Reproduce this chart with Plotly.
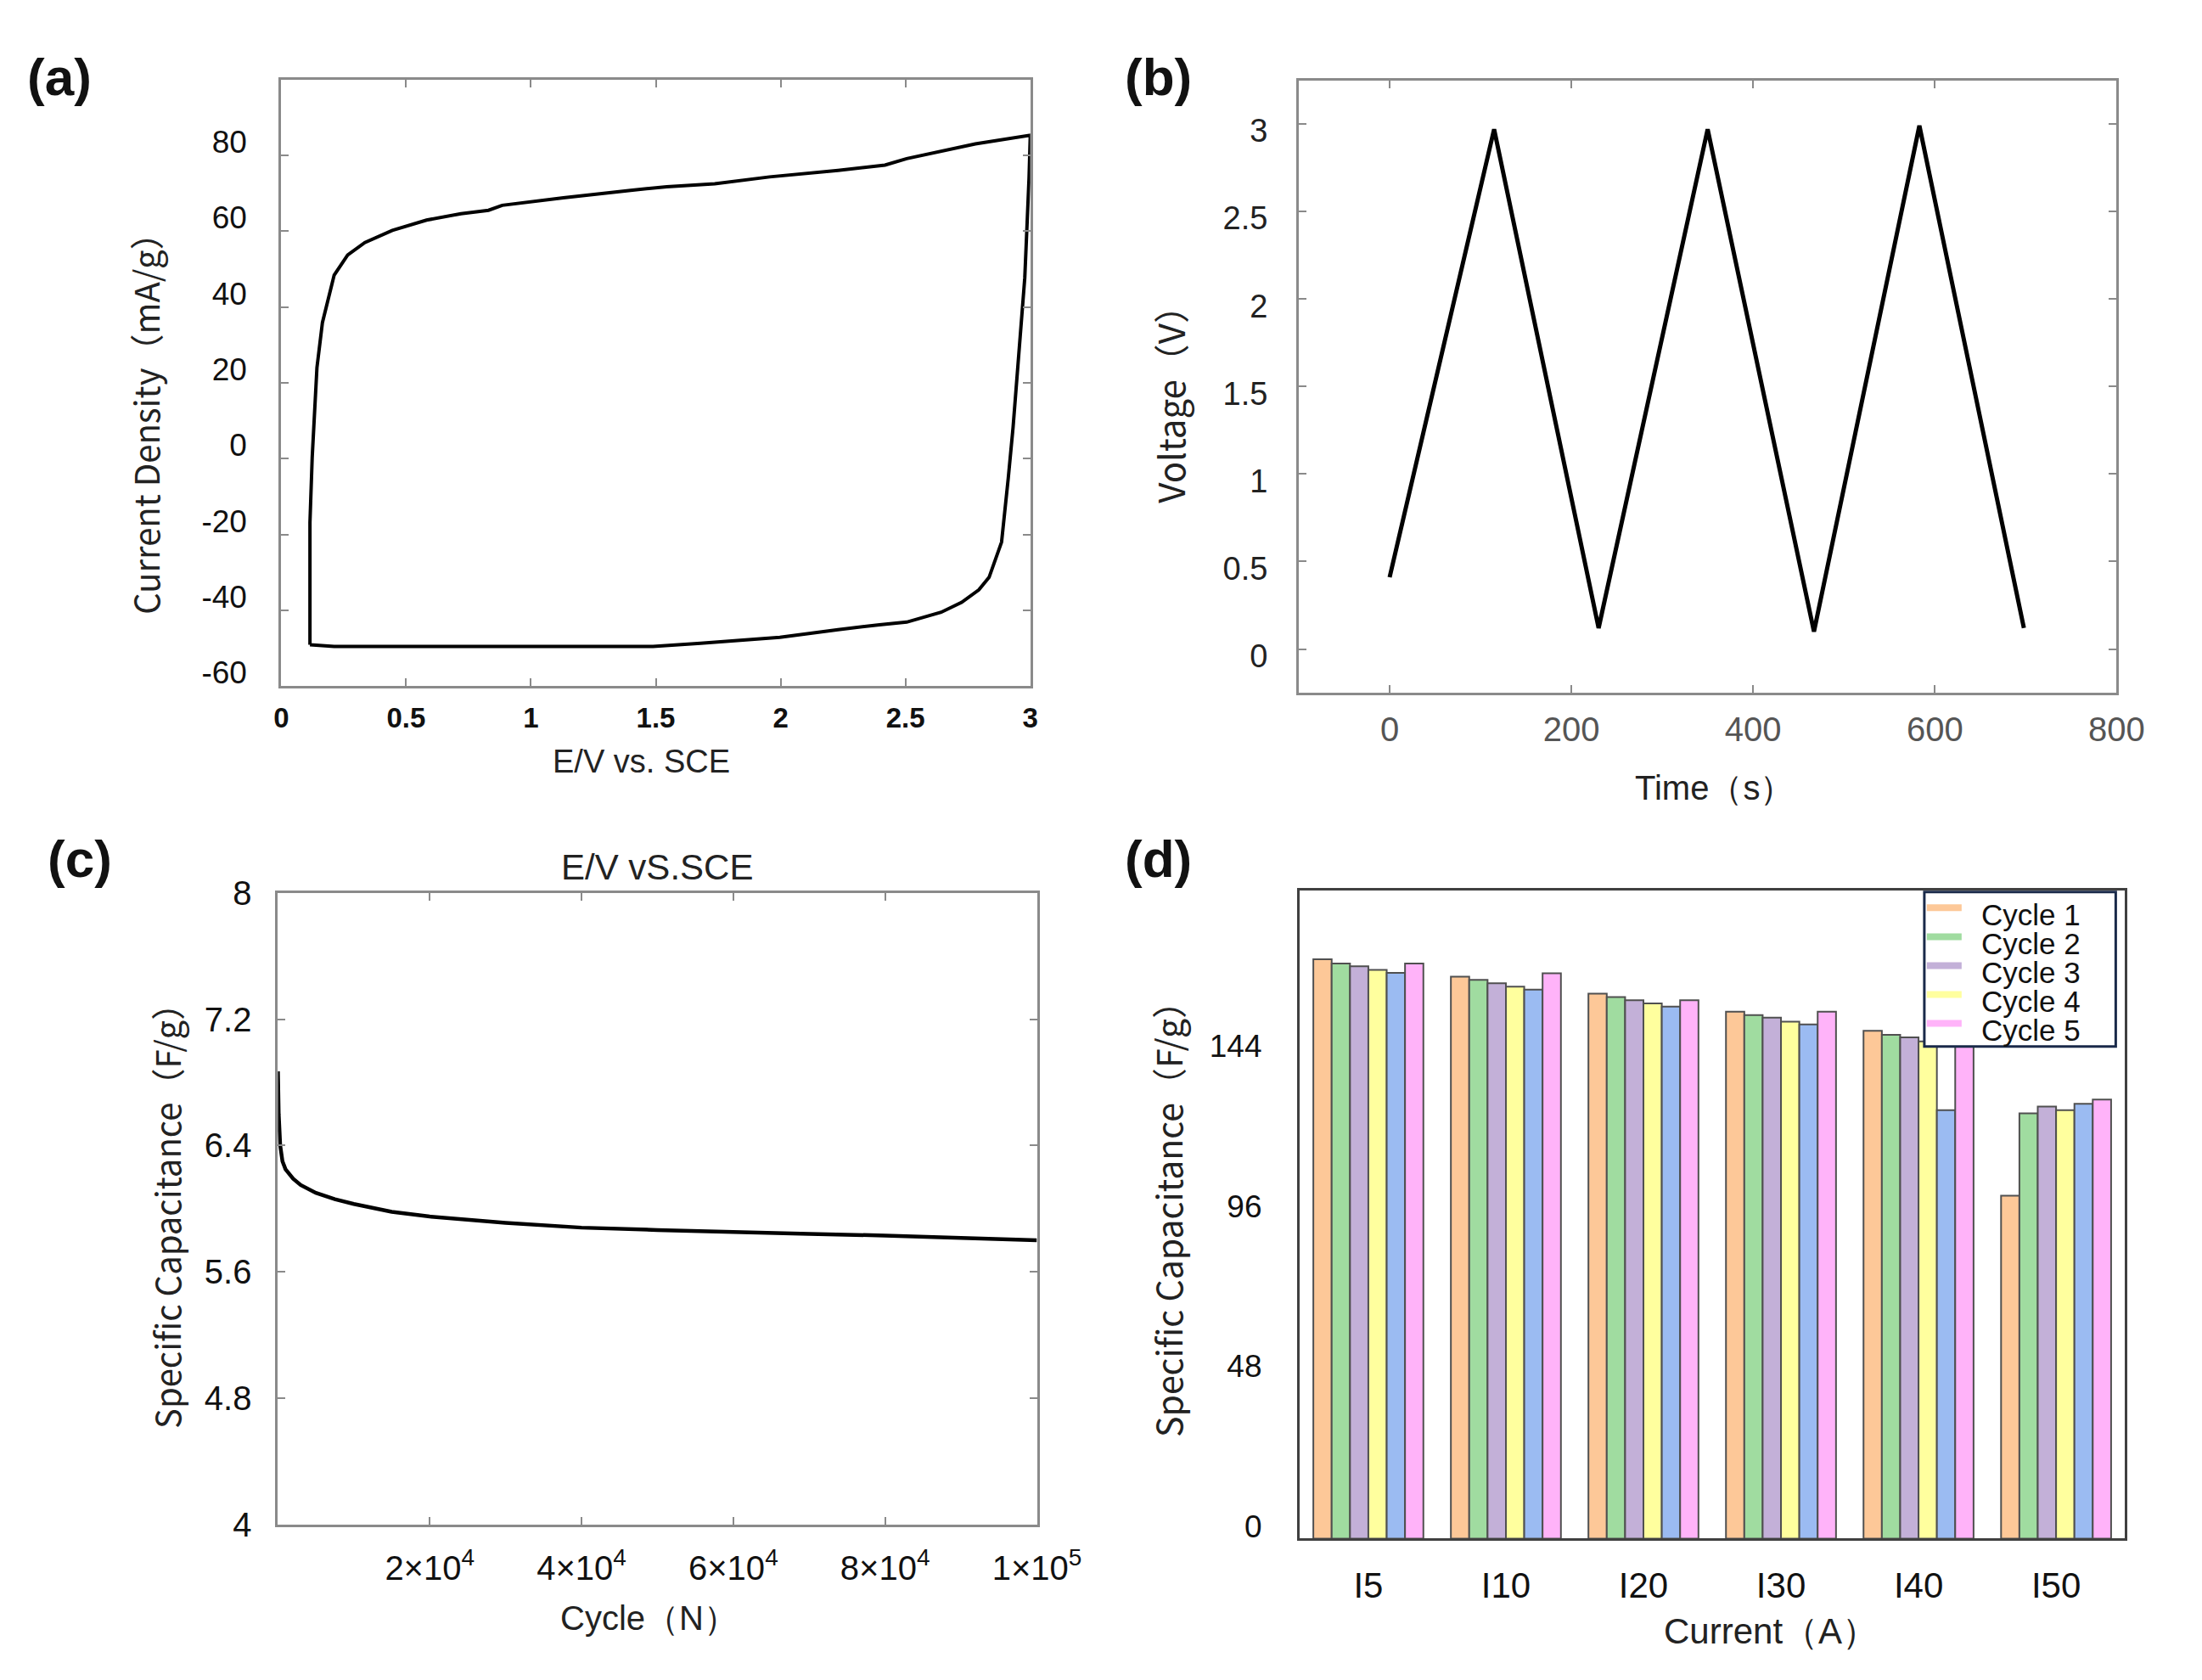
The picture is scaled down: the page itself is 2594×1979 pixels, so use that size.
import plotly.graph_objects as go

# %% Data
# (a) cyclic voltammogram, E/V vs. SCE -> current density (mA/g)
cv_potential = [0.115, 0.115, 0.124, 0.143, 0.165, 0.212, 0.266, 0.335, 0.445, 0.582,
                0.72, 0.83, 0.885, 1.13, 1.407, 1.544, 1.736, 1.956, 2.23, 2.418,
                2.505, 2.78, 3.0, 2.995, 2.978, 2.959, 2.931, 2.912, 2.885, 2.835,
                2.794, 2.725, 2.643, 2.505, 2.396, 2.23, 1.997, 1.68, 1.489, 0.857,
                0.212, 0.115]
cv_current = [-49.1, -16.8, 0.3, 24.0, 35.9, 48.4, 53.7, 57.0, 60.2, 62.9,
              64.6, 65.5, 66.8, 68.8, 70.8, 71.7, 72.5, 74.3, 76.0, 77.4,
              79.1, 83.0, 85.3, 74.0, 47.7, 30.6, 8.2, -5.0, -22.0, -31.3,
              -34.6, -37.9, -40.5, -43.1, -43.8, -45.1, -47.1, -48.7, -49.5, -49.5,
              -49.5, -49.1]
cv_yticks = [-60, -40, -20, 0, 20, 40, 60, 80]

# (b) galvanostatic charge/discharge
gcd_time = [0, 115, 230, 350, 467, 583, 698]
gcd_voltage = [0.41, 2.97, 0.12, 2.97, 0.10, 2.99, 0.12]

# (c) cycling stability
cycle_n = [0, 100, 300, 600, 1000, 2000, 3000, 5000, 7500, 10000, 15000,
           20000, 30000, 40000, 50000, 60000, 70000, 80000, 90000, 100000]
cycle_cap = [6.87, 6.6, 6.4, 6.3, 6.25, 6.19, 6.15, 6.10, 6.06, 6.03, 5.98,
             5.95, 5.91, 5.88, 5.865, 5.85, 5.84, 5.83, 5.815, 5.80]
cycle_ticks = [20000, 40000, 60000, 80000, 100000]
cycle_ticktext = ["2×10<sup>4</sup>", "4×10<sup>4</sup>", "6×10<sup>4</sup>",
                  "8×10<sup>4</sup>", "1×10<sup>5</sup>"]

# (d) rate capability
currents = ["I5", "I10", "I20", "I30", "I40", "I50"]
cycle1 = [173.4, 168.2, 163.1, 157.7, 152.0, 102.6]
cycle2 = [172.1, 167.2, 162.1, 156.7, 150.8, 127.3]
cycle3 = [171.3, 166.2, 161.1, 155.9, 150.0, 129.3]
cycle4 = [170.2, 165.2, 160.2, 154.7, 148.8, 128.2]
extra_blue = [169.3, 164.3, 159.2, 153.9, 128.2, 130.1]
cycle5 = [172.1, 169.2, 161.1, 157.7, 150.8, 131.4]
legend_names = ["Cycle 1", "Cycle 2", "Cycle 3", "Cycle 4", "Cycle 5"]

W, H = 2594, 1979


def px(x):
    return x / W


def py(y):
    return 1 - y / H


SANS = "Liberation Sans, Arial, sans-serif"
CJK = "Noto Sans CJK SC, Noto Sans, sans-serif"

fig = go.Figure()

# %% (a)
fig.add_trace(go.Scatter(x=cv_potential, y=cv_current, mode="lines",
                         line=dict(color="black", width=4), showlegend=False,
                         xaxis="x", yaxis="y"))

# %% (b)
fig.add_trace(go.Scatter(x=gcd_time, y=gcd_voltage, mode="lines",
                         line=dict(color="black", width=5), showlegend=False,
                         xaxis="x2", yaxis="y2"))

# %% (c)
fig.add_trace(go.Scatter(x=cycle_n, y=cycle_cap, mode="lines",
                         line=dict(color="black", width=4.5), showlegend=False,
                         xaxis="x3", yaxis="y3"))

# %% (d)
bar_colors = ["#FDC898", "#A0DCA0", "#C3B0D8", "#FFFF9E", "#9BBBF2", "#FFB3F9"]
bar_series = [cycle1, cycle2, cycle3, cycle4, extra_blue, cycle5]
for vals, col in zip(bar_series, bar_colors):
    fig.add_trace(go.Bar(x=currents, y=vals,
                         marker=dict(color=col, line=dict(color="#505050", width=2)),
                         showlegend=False, xaxis="x4", yaxis="y4"))

frame = dict(showline=True, linecolor="#8a8a8a", linewidth=3, mirror="ticks",
             ticks="inside", ticklen=9, tickcolor="#8a8a8a", tickwidth=2,
             showgrid=False, zeroline=False)

fig.update_layout(
    width=W, height=H,
    margin=dict(l=0, r=0, t=0, b=0),
    paper_bgcolor="white", plot_bgcolor="white",
    barmode="group", bargap=0.2, bargroupgap=0,
    xaxis=dict(frame, domain=[px(322), px(1226)], range=[0, 3], anchor="y",
               tickvals=[0, 0.5, 1, 1.5, 2, 2.5, 3], ticktext=["0", "0.5", "1", "1.5", "2", "2.5", "3"],
               tickfont=dict(family=SANS, size=33, color="#111", weight="bold"), ticklabelstandoff=6),
    yaxis=dict(frame, domain=[py(796), py(65)], range=[-60, 100], anchor="x",
               tickvals=cv_yticks, ticktext=[str(v) for v in cv_yticks],
               tickfont=dict(family=SANS, size=37, color="#111"), ticklabelstandoff=30,
               ticklabelshift=-16),
    xaxis2=dict(frame, domain=[px(1550), px(2537)], range=[-100, 800], anchor="y2",
                tickvals=[0, 200, 400, 600, 800],
                tickfont=dict(family=SANS, size=40, color="#555"), ticklabelstandoff=6),
    yaxis2=dict(frame, domain=[py(804), py(66)], range=[-0.25, 3.25], anchor="x2",
                tickvals=[0, 0.5, 1, 1.5, 2, 2.5, 3], ticktext=["0", "0.5", "1", "1.5", "2", "2.5", "3"],
                tickfont=dict(family=SANS, size=38, color="#222"), ticklabelstandoff=26,
                ticklabelshift=8),
    xaxis3=dict(frame, domain=[px(318), px(1234)], range=[0, 100000], anchor="y3",
                tickvals=cycle_ticks, ticktext=cycle_ticktext,
                tickfont=dict(family=SANS, size=40, color="#111"), ticklabelstandoff=14),
    yaxis3=dict(frame, domain=[py(1806), py(1045)], range=[4, 8], anchor="x3",
                tickvals=[4, 4.8, 5.6, 6.4, 7.2, 8], ticktext=["4", "4.8", "5.6", "6.4", "7.2", "8"],
                tickfont=dict(family=SANS, size=40, color="#111"), ticklabelstandoff=20),
    xaxis4=dict(domain=[px(1551), px(2547)], anchor="y4", showline=True, linecolor="#404040",
                linewidth=3, mirror=True, ticks="", showgrid=False, zeroline=False,
                tickfont=dict(family=SANS, size=42, color="#111"), ticklabelstandoff=16),
    yaxis4=dict(domain=[py(1823), py(1042)], range=[0, 194], anchor="x4", showline=True,
                linecolor="#404040", linewidth=3, mirror=True, ticks="", showgrid=False,
                zeroline=False, tickvals=[0, 48, 96, 144],
                tickfont=dict(family=SANS, size=37, color="#111"), ticklabelstandoff=34,
                ticklabelshift=-14),
    showlegend=False,
)

# %% Hand-made legend for (d): line swatches, tight rows, white box on top of the bars
fig.add_shape(type="rect", xref="paper", yref="paper",
              x0=px(2305), x1=px(2536), y0=py(1230), y1=py(1044),
              line=dict(color="#1a2a4a", width=3), fillcolor="white", layer="above")
for i, (name, col) in enumerate(zip(legend_names, bar_colors[:4] + [bar_colors[5]])):
    ys = 1063 + i * 34.8
    fig.add_shape(type="line", xref="paper", yref="paper",
                  x0=px(2308), x1=px(2350), y0=py(ys), y1=py(ys),
                  line=dict(color=col, width=8), layer="above")
    fig.add_annotation(text=name, x=px(2372), y=py(ys + 8), xref="paper", yref="paper",
                       showarrow=False, xanchor="left", yanchor="middle",
                       font=dict(family=SANS, size=35, color="#111"))

# %% Text
titles = [
    ("(a)", 54, 62, 0, dict(family=SANS, size=62, color="#111", weight="bold")),
    ("(b)", 1381, 62, 0, dict(family=SANS, size=62, color="#111", weight="bold")),
    ("(c)", 79, 1004, 0, dict(family=SANS, size=62, color="#111", weight="bold")),
    ("(d)", 1381, 1004, 0, dict(family=SANS, size=62, color="#111", weight="bold")),
    ("Current Density（mA/g）", 157, 470, -90, dict(family=CJK, size=40, color="#222")),
    ("E/V vs. SCE", 757, 887, 0, dict(family=SANS, size=38, color="#222")),
    ("Voltage（V）", 1393, 446, -90, dict(family=CJK, size=42, color="#222")),
    ("Time（s）", 2052, 918, 0, dict(family=SANS, size=40, color="#222")),
    ("E/V vS.SCE", 776, 1014, 0, dict(family=SANS, size=42, color="#222")),
    ("Specific Capacitance（F/g）", 184, 1424, -90, dict(family=CJK, size=40, color="#222")),
    ("Cycle（N）", 766, 1919, 0, dict(family=SANS, size=40, color="#222")),
    ("Specific Capacitance（F/g）", 1392, 1428, -90, dict(family=CJK, size=41, color="#222")),
    ("Current（A）", 2120, 1935, 0, dict(family=SANS, size=42, color="#222")),
]
for text, x, y, angle, font in titles:
    fig.add_annotation(text=text, x=px(x), y=py(y), xref="paper", yref="paper",
                       showarrow=False, textangle=angle, font=font,
                       xanchor="center", yanchor="middle")

fig.write_html("out.html")
